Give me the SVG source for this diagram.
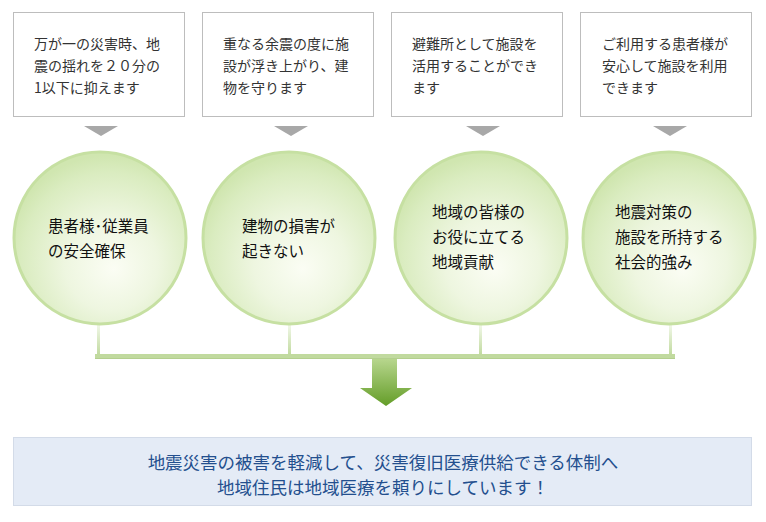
<svg xmlns="http://www.w3.org/2000/svg" width="766" height="522" viewBox="0 0 766 522">
<style>
.box{fill:#fff;stroke:#bdbdbd;stroke-width:1}
.tri{fill:#a8a8a8}
.bt{font-family:"Noto Sans CJK JP","Noto Sans",sans-serif;font-size:14px;fill:#333}
.ct{font-family:"Noto Sans CJK JP","Noto Sans",sans-serif;font-size:15.5px;fill:#111}
.circ{fill:url(#cg);stroke:#c6e0a2;stroke-width:3}
.vl{fill:url(#vg)}
.ft{font-family:"Noto Sans CJK JP","Noto Sans",sans-serif;font-size:17.5px;fill:#234f8e}
</style>
<defs>
<radialGradient id="cg" cx="0.55" cy="0.62" r="0.6" fx="0.58" fy="0.68">
<stop offset="0" stop-color="#fbfdf4"/>
<stop offset="0.45" stop-color="#eef6e0"/>
<stop offset="0.85" stop-color="#daecc0"/>
<stop offset="1" stop-color="#d0e6b0"/>
</radialGradient>
<linearGradient id="vg" x1="0" y1="0" x2="0" y2="1">
<stop offset="0" stop-color="#f2f8ea"/>
<stop offset="1" stop-color="#bfd99c"/>
</linearGradient>
<linearGradient id="ag" x1="0" y1="0" x2="0" y2="1">
<stop offset="0" stop-color="#b7d68d"/>
<stop offset="1" stop-color="#649d28"/>
</linearGradient>
</defs>

<g id="box1">
<rect class="box" x="13.5" y="12.5" width="171" height="104"/>
<text class="bt" x="34" y="49">万が一の災害時、地</text>
<text class="bt" x="34" y="71">震の揺れを２０分の</text>
<text class="bt" x="34" y="93">1以下に抑えます</text>
<polygon class="tri" points="84,126 118,126 101,136"/>
</g>
<g id="box2">
<rect class="box" x="202.5" y="12.5" width="171" height="104"/>
<text class="bt" x="223" y="49">重なる余震の度に施</text>
<text class="bt" x="223" y="71">設が浮き上がり、建</text>
<text class="bt" x="223" y="93">物を守ります</text>
<polygon class="tri" points="274,126 308,126 291,136"/>
</g>
<g id="box3">
<rect class="box" x="391.5" y="12.5" width="171" height="104"/>
<text class="bt" x="412" y="49">避難所として施設を</text>
<text class="bt" x="412" y="71">活用することができ</text>
<text class="bt" x="412" y="93">ます</text>
<polygon class="tri" points="466,126 500,126 483,136"/>
</g>
<g id="box4">
<rect class="box" x="580.5" y="12.5" width="171" height="104"/>
<text class="bt" x="602" y="49">ご利用する患者様が</text>
<text class="bt" x="602" y="71">安心して施設を利用</text>
<text class="bt" x="602" y="93">できます</text>
<polygon class="tri" points="653,126 687,126 670,136"/>
</g>

<g id="connectors">
<rect class="vl" x="97" y="324" width="3" height="32"/>
<rect class="vl" x="288" y="324" width="3" height="32"/>
<rect class="vl" x="479" y="324" width="3" height="32"/>
<rect class="vl" x="669" y="324" width="3" height="32"/>
<rect x="95" y="354" width="580" height="5" fill="#c1da9f"/>
<rect x="95" y="358" width="580" height="1" fill="#b3cf8e"/>
<path d="M372,359 H397 V388 H412 L386,406 L360,388 H372 Z" fill="url(#ag)"/>
</g>

<g id="circle1">
<circle class="circ" cx="100" cy="238" r="86"/>
<text class="ct" x="48" y="232">患者様･従業員</text>
<text class="ct" x="48" y="257">の安全確保</text>
</g>
<g id="circle2">
<circle class="circ" cx="289" cy="238" r="86"/>
<text class="ct" x="242" y="232">建物の損害が</text>
<text class="ct" x="242" y="257">起きない</text>
</g>
<g id="circle3">
<circle class="circ" cx="481" cy="238" r="86"/>
<text class="ct" x="432" y="218">地域の皆様の</text>
<text class="ct" x="432" y="243">お役に立てる</text>
<text class="ct" x="432" y="268">地域貢献</text>
</g>
<g id="circle4">
<circle class="circ" cx="669" cy="238" r="86"/>
<text class="ct" x="615" y="218">地震対策の</text>
<text class="ct" x="615" y="243">施設を所持する</text>
<text class="ct" x="615" y="268">社会的強み</text>
</g>

<g id="result">
<rect x="13.5" y="437.5" width="738" height="68" fill="#e4ebf6" stroke="#d3dbe8" stroke-width="1"/>
<text class="ft" x="383" y="469" text-anchor="middle">地震災害の被害を軽減して、災害復旧医療供給できる体制へ</text>
<text class="ft" x="383" y="494" text-anchor="middle">地域住民は地域医療を頼りにしています！</text>
</g>
</svg>
